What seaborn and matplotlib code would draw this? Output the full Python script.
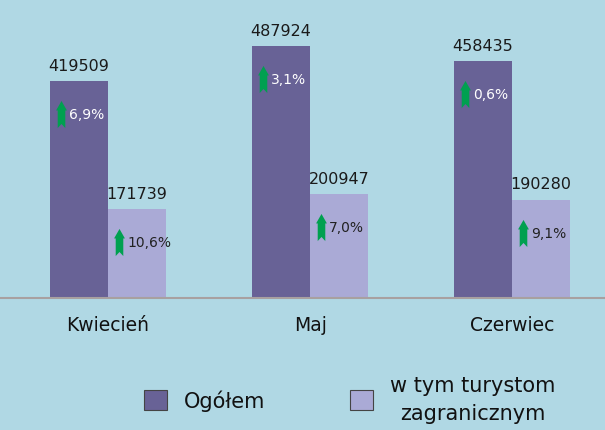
import numpy as np
import pandas as pd
import matplotlib
matplotlib.use("Agg")
import matplotlib.pyplot as plt
import seaborn as sns
from matplotlib.path import Path
from matplotlib.patches import Patch
from matplotlib.transforms import offset_copy

months = ["Kwiecień", "Maj", "Czerwiec"]
series = ["Ogółem", "w tym turystom\nzagranicznym"]
total = [419509, 487924, 458435]
foreign = [171739, 200947, 190280]
total_change = ["6,9%", "3,1%", "0,6%"]
foreign_change = ["10,6%", "7,0%", "9,1%"]

bg = "#b0d8e4"
colors = ["#686296", "#aaaad6"]
green = "#00a050"

df = pd.DataFrame({
    "month": months * 2,
    "series": [series[0]] * 3 + [series[1]] * 3,
    "value": total + foreign,
})

fig = plt.figure(figsize=(6.05, 4.31), dpi=100)
fig.patch.set_facecolor(bg)
ax = fig.add_axes([0, 0.3063, 1, 0.6937])
ax.set_facecolor(bg)

sns.barplot(data=df, x="month", y="value", hue="series", palette=colors,
            width=0.574, gap=0, linewidth=0, saturation=1, legend=False, ax=ax)

ax.set_xlim(-0.535, 2.46)
ax.set_ylim(0, 578900)
ax.set_xlabel("")
ax.set_ylabel("")
ax.set_yticks([])
for s in ["top", "right", "left"]:
    ax.spines[s].set_visible(False)
ax.spines["bottom"].set_color("#a8a0a0")
ax.spines["bottom"].set_linewidth(1.5)
ax.tick_params(axis="x", length=0, pad=12, labelsize=13.5, colors="#111111")

# value labels above bars
for cont in ax.containers:
    ax.bar_label(cont, fmt="%d", padding=6, fontsize=11.5, color="#1a1a1a")

# green up arrows with percent changes
arrow = Path([(0, 1), (0.4, 0.3), (0.28, 0.3), (0.28, -1), (0, -0.7),
              (-0.28, -1), (-0.28, 0.3), (-0.4, 0.3), (0, 1)],
             [Path.MOVETO] + [Path.LINETO] * 7 + [Path.CLOSEPOLY])

changes = [total_change, foreign_change]
text_cols = ["white", "#222222"]
for k, cont in enumerate(ax.containers):
    for bar, lab in zip(cont, changes[k]):
        x0 = bar.get_x()
        top = bar.get_height()
        tr_a = offset_copy(ax.transData, fig=fig, x=11, y=-33, units="dots")
        tr_t = offset_copy(ax.transData, fig=fig, x=19, y=-33, units="dots")
        ax.plot([x0], [top], marker=arrow, markersize=19.5, color=green,
                markeredgewidth=0, transform=tr_a, clip_on=False)
        ax.text(x0, top, lab, transform=tr_t, ha="left", va="center",
                fontsize=10, color=text_cols[k])

handles = [Patch(facecolor=c, edgecolor="#444444", linewidth=0.8) for c in colors]
leg = fig.legend(handles, series, loc="center", bbox_to_anchor=(0.578, 0.072),
                 ncol=2, frameon=False, fontsize=15, handlelength=1.1,
                 handleheight=1.15, handletextpad=0.8, columnspacing=4.1)
for t in leg.get_texts():
    t.set_multialignment("center")
    t.set_linespacing(1.5)
    t.set_color("#111111")

fig.savefig("out.png", dpi=100, facecolor=bg)
